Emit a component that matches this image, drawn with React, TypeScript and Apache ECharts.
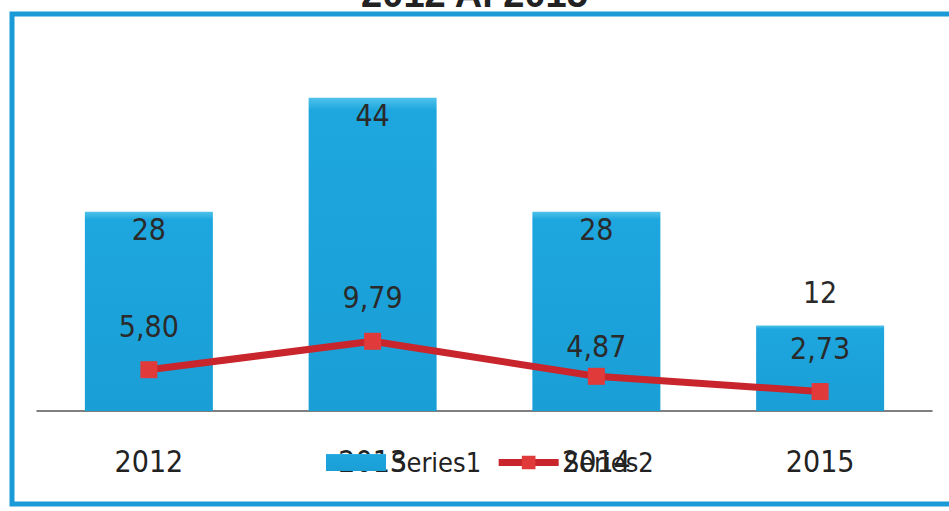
import React, { useEffect, useRef } from "react";
import * as echarts from "echarts";

const categories = ["2012", "2013", "2014", "2015"];
const series1 = [28, 44, 28, 12];
const series2 = [5.8, 9.79, 4.87, 2.73];
const titleText = "2012 Al 2015";

const FONT = "'Liberation Sans Narrow', 'DejaVu Sans Condensed', sans-serif";
const fmt = (v: number) => v.toFixed(2).replace(".", ",");

export default function App() {
  const ref = useRef<HTMLDivElement>(null);
  useEffect(() => {
    const chart = echarts.init(ref.current!, null, { renderer: "svg" });
    chart.setOption({
      animation: false,
      backgroundColor: "#fff",
      title: {
        text: titleText,
        left: "center",
        top: -30,
        textStyle: { fontFamily: "'Liberation Sans', Arial, sans-serif", fontWeight: "bold", fontSize: 38, color: "#222" },
      },
      graphic: [
        {
          type: "rect",
          shape: { x: 12, y: 14, width: 960, height: 490 },
          style: { fill: "none", stroke: "#1b9ad8", lineWidth: 5 },
          z: 100,
        },
      ],
      legend: {
        data: [
          { name: "Series1", icon: "rect" },
          { name: "Series2", lineStyle: { width: 7, color: "#c8262c" }, itemStyle: { color: "#e03a3a" } },
        ],
        left: 321,
        top: 444,
        itemWidth: 60,
        itemHeight: 17,
        itemGap: 14,
        textStyle: { fontFamily: FONT, fontSize: 27, color: "#222" },
      },
      grid: { left: 37, right: 17, top: 55, bottom: 100 },
      xAxis: {
        type: "category",
        data: categories,
        axisLine: { lineStyle: { color: "#555", width: 1.5 } },
        axisTick: { show: false },
        axisLabel: { fontFamily: FONT, fontSize: 30, color: "#222", margin: 35 },
      },
      yAxis: {
        type: "value",
        min: 0,
        max: 50,
        show: false,
        splitLine: { show: false },
      },
      series: [
        {
          name: "Series1",
          type: "bar",
          barWidth: 128,
          data: series1.map((v, i) =>
            i === 3
              ? { value: v, label: { position: "top", distance: 18 } }
              : v
          ),
          itemStyle: {
            color: new echarts.graphic.LinearGradient(0, 0, 0, 1, [
              { offset: 0, color: "#4ec3ea" },
              { offset: 0.04, color: "#1ea6de" },
              { offset: 1, color: "#1a9ed6" },
            ]),
          },
          label: {
            show: true,
            position: "insideTop",
            distance: 3,
            fontFamily: FONT,
            fontSize: 30,
            color: "#2a2a2a",
          },
        },
        {
          name: "Series2",
          type: "line",
          data: series2.map((v, i) =>
            i === 2 ? { value: v, label: { distance: 6 } } : v
          ),
          symbol: "rect",
          symbolSize: 17,
          lineStyle: { color: "#c8262c", width: 7 },
          itemStyle: { color: "#e03a3a" },
          label: {
            show: true,
            position: "top",
            distance: 20,
            fontFamily: FONT,
            fontSize: 30,
            color: "#2a2a2a",
            formatter: (p: any) => fmt(p.value),
          },
        },
      ],
    });
    return () => chart.dispose();
  }, []);
  return <div ref={ref} style={{ width: 949, height: 511, position: "absolute", left: 0, top: 0 }} />;
}
